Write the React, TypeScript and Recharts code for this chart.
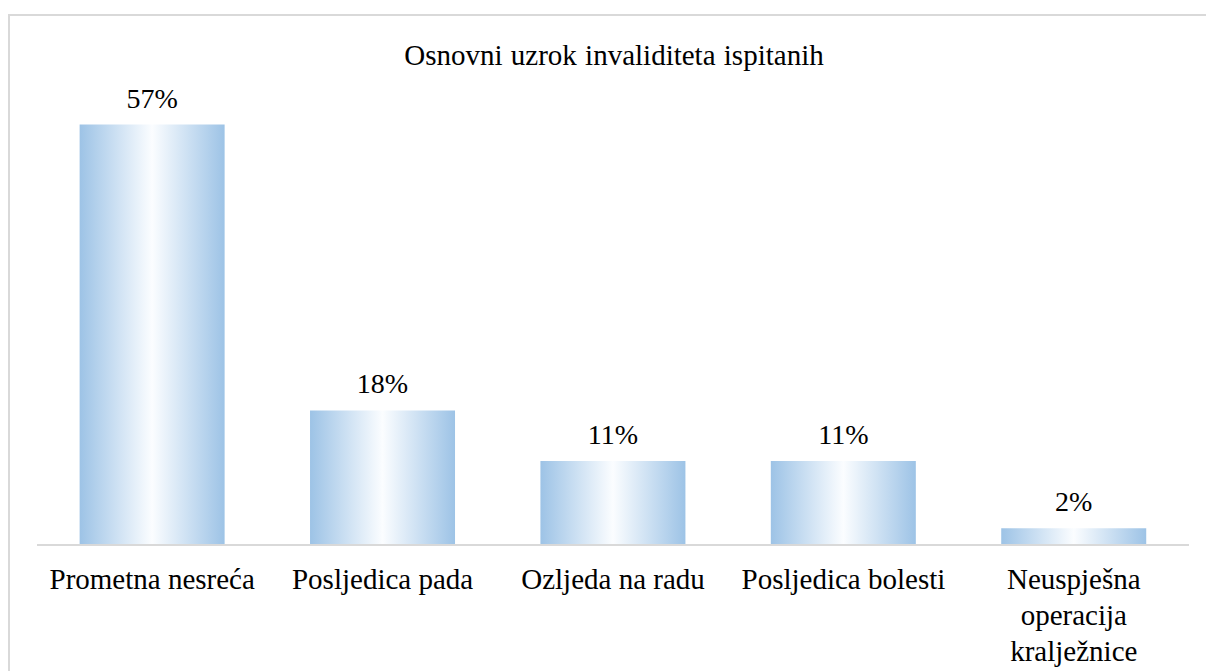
import { BarChart, Bar, XAxis, YAxis, LabelList } from "recharts";

// Osnovni uzrok invaliditeta (n = 44)
const categories = [
  "Prometna nesreća",
  "Posljedica pada",
  "Ozljeda na radu",
  "Posljedica bolesti",
  "Neuspješna operacija kralježnice",
];
const shares = [56.82, 18.18, 11.36, 11.36, 2.27];
const tickLines = [
  ["Prometna nesreća"],
  ["Posljedica pada"],
  ["Ozljeda na radu"],
  ["Posljedica bolesti"],
  ["Neuspješna", "operacija", "kralježnice"],
];

const data = categories.map((name, i) => ({ name, value: shares[i] }));

const FONT = '"Liberation Serif", "Times New Roman", serif';

const CategoryTick = (props: any) => {
  const { x, y, payload } = props;
  const lines = tickLines[payload.index] ?? [payload.value];
  return (
    <text x={x} y={y} textAnchor="middle" style={{ fontFamily: FONT }} fontSize={29} fill="#000">
      {lines.map((l, i) => (
        <tspan key={i} x={x} dy={i === 0 ? 36 : 36}>
          {l}
        </tspan>
      ))}
    </text>
  );
};

export default function App() {
  return (
    <div
      style={{
        position: "fixed",
        left: 0,
        top: 0,
        width: 1206,
        height: 671,
        overflow: "hidden",
        background: "#fff",
      }}
    >
      <div
        style={{
          position: "absolute",
          left: 8,
          top: 14,
          width: 1210,
          height: 700,
          border: "2px solid #d9d9d9",
          boxSizing: "border-box",
          fontFamily: FONT,
        }}
      >
        <div
          style={{
            position: "absolute",
            top: 23,
            left: 0,
            width: 1208,
            textAlign: "center",
            fontSize: 29,
            lineHeight: "normal",
            wordSpacing: 1,
            color: "#000",
            whiteSpace: "nowrap",
          }}
        >
          Osnovni uzrok invaliditeta ispitanih
        </div>
        <BarChart
          width={1200}
          height={656}
          data={data}
          margin={{ top: 85, right: 21, bottom: 0, left: 27 }}
          barCategoryGap="18.5%"
        >
          <defs>
            <linearGradient id="barGrad" x1="0" y1="0" x2="1" y2="0">
              <stop offset="0%" stopColor="#9dc3e6" />
              <stop offset="50%" stopColor="#fbfdff" />
              <stop offset="100%" stopColor="#9dc3e6" />
            </linearGradient>
          </defs>
          <YAxis hide domain={[0, 60]} />
          <XAxis
            dataKey="name"
            axisLine={{ stroke: "#d9d9d9", strokeWidth: 2 }}
            tickLine={false}
            tick={<CategoryTick />}
            interval={0}
            height={127}
          />
          <Bar dataKey="value" fill="url(#barGrad)" isAnimationActive={false}>
            <LabelList
              dataKey="value"
              position="top"
              offset={17}
              formatter={(v: any) => `${Math.round(Number(v))}%`}
              style={{ fontFamily: FONT, fontSize: 28, fill: "#000" }}
            />
          </Bar>
        </BarChart>
      </div>
    </div>
  );
}
